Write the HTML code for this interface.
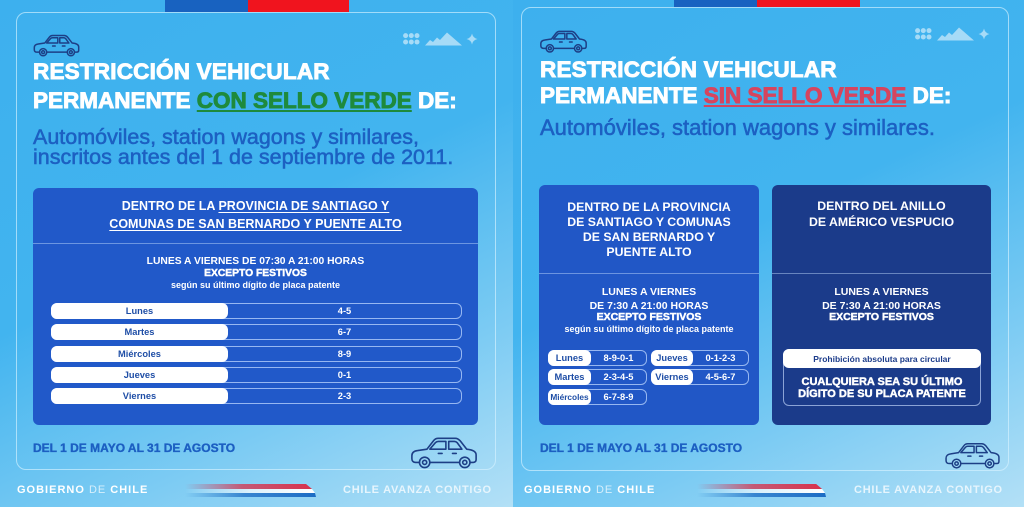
<!DOCTYPE html>
<html><head><meta charset="utf-8">
<style>
*{margin:0;padding:0;box-sizing:border-box}
body{width:1024px;height:507px;overflow:hidden;background:#42b3ef;font-family:"Liberation Sans",Arial,sans-serif;position:relative}
.img{position:absolute;top:0;height:507px;background:linear-gradient(155deg,#3db0ee 0%,#42b4ef 45%,#7ccbf3 75%,#b3e0f6 100%)}
.a{position:absolute;white-space:nowrap;line-height:1}
.card{position:absolute;border:1.5px solid rgba(215,243,255,0.65);border-radius:10px}
.t{color:#fff;font-weight:bold;font-size:22.5px;-webkit-text-stroke:0.9px #fff}
.ug{color:#1e8a3c;-webkit-text-stroke:0.9px #1e8a3c;text-decoration:underline;text-decoration-thickness:2px;text-underline-offset:2px}
.ur{color:#d6455e;-webkit-text-stroke:0.9px #d6455e;text-decoration:underline;text-decoration-thickness:2px;text-underline-offset:2px}
.sub{color:#1c60c2;font-size:21.5px;-webkit-text-stroke:0.55px #1c60c2}
.box{position:absolute;border-radius:6px}
.hd{color:#fff;font-weight:bold;font-size:12.5px;text-align:center}
.ul{text-decoration:underline;text-decoration-thickness:1px;text-underline-offset:2px}
.sm{color:#fff;font-weight:bold;font-size:10.3px;text-align:center}
.ex{-webkit-text-stroke:0.45px #fff}
.sg{color:#fff;font-weight:bold;font-size:9px;text-align:center}
.div{position:absolute;height:1px;background:rgba(200,225,255,0.45)}
.row{position:absolute;height:16px;border:1px solid rgba(190,215,255,0.75);border-radius:6px;display:flex;align-items:center}
.pill{height:16px;margin:-1px 0 -1px -1px;background:#fff;border-radius:6px;color:#1f4ea6;font-weight:bold;font-size:9.3px;display:flex;align-items:center;justify-content:center;flex:none}
.val{flex:1;text-align:center;color:#fff;font-weight:bold;font-size:9.3px}
.bot{color:#1c5fc2;font-weight:bold;font-size:12px;-webkit-text-stroke:0.35px #1c5fc2}
.ft{color:#fff;font-weight:bold;font-size:11px;letter-spacing:1px}
.ft span{font-weight:normal;color:rgba(255,255,255,0.7)}
.ft2{color:#e6f5fd;font-weight:bold;font-size:11px;letter-spacing:0.75px}
svg{position:absolute}
</style></head><body>

<div class="img" style="left:0;width:513px"></div>
<div class="img" style="left:513px;width:511px"></div>

<!-- flags -->
<div style="position:absolute;left:165px;top:0;width:83px;height:12px;background:#1862c0"></div>
<div style="position:absolute;left:248px;top:0;width:101px;height:12px;background:#f0141e"></div>
<div style="position:absolute;left:674px;top:0;width:83px;height:7px;background:#1862c0"></div>
<div style="position:absolute;left:757px;top:0;width:103px;height:7px;background:#f0141e"></div>

<!-- cards -->
<div class="card" style="left:16px;top:12px;width:480px;height:458px"></div>
<div class="card" style="left:521px;top:7px;width:488px;height:464px"></div>

<!-- small car icons -->
<svg style="left:33px;top:33px" width="47" height="24" viewBox="0 0 72 36" fill="none" stroke="#1d3f86" stroke-width="1.5" stroke-linejoin="round" stroke-linecap="round">
<path vector-effect="non-scaling-stroke" d="M10 29 H6 C3 29 2 27 2 25 V22 C2 19 4 17 8 16.5 L18 15 L25 6 C26.5 4 28 3.5 30 3.5 H48 C50 3.5 51.5 4.5 53 6 L60 15 C65 15.5 70 17 70 21 V26 C70 28 69 29 67 29 H64 M52 29 H21"/>
<path vector-effect="non-scaling-stroke" d="M21 15 L27 8 C28 7 29 6.8 30 6.8 H38 V15 Z M41 6.8 H47 C48 6.8 49 7.2 50 8.2 L55 15 H41 Z M30 19.5 H34 M45 19.5 H49"/>
<circle vector-effect="non-scaling-stroke" cx="15.5" cy="29" r="5.5"/><circle vector-effect="non-scaling-stroke" cx="15.5" cy="29" r="2.2"/>
<circle vector-effect="non-scaling-stroke" cx="58" cy="29" r="5.5"/><circle vector-effect="non-scaling-stroke" cx="58" cy="29" r="2.2"/>
</svg>
<svg style="left:539px;top:29px" width="49" height="24" viewBox="0 0 72 36" fill="none" stroke="#1d3f86" stroke-width="1.5" stroke-linejoin="round" stroke-linecap="round">
<path vector-effect="non-scaling-stroke" d="M10 29 H6 C3 29 2 27 2 25 V22 C2 19 4 17 8 16.5 L18 15 L25 6 C26.5 4 28 3.5 30 3.5 H48 C50 3.5 51.5 4.5 53 6 L60 15 C65 15.5 70 17 70 21 V26 C70 28 69 29 67 29 H64 M52 29 H21"/>
<path vector-effect="non-scaling-stroke" d="M21 15 L27 8 C28 7 29 6.8 30 6.8 H38 V15 Z M41 6.8 H47 C48 6.8 49 7.2 50 8.2 L55 15 H41 Z M30 19.5 H34 M45 19.5 H49"/>
<circle vector-effect="non-scaling-stroke" cx="15.5" cy="29" r="5.5"/><circle vector-effect="non-scaling-stroke" cx="15.5" cy="29" r="2.2"/>
<circle vector-effect="non-scaling-stroke" cx="58" cy="29" r="5.5"/><circle vector-effect="non-scaling-stroke" cx="58" cy="29" r="2.2"/>
</svg>

<!-- decor icons -->
<svg style="left:403px;top:32px" width="75" height="14" viewBox="0 0 75 14" fill="#a6dbf7">
<circle cx="2.6" cy="3.6" r="2.5"/><circle cx="8.3" cy="3.6" r="2.5"/><circle cx="14" cy="3.6" r="2.5"/>
<circle cx="2.6" cy="10" r="2.5"/><circle cx="8.3" cy="10" r="2.5"/><circle cx="14" cy="10" r="2.5"/>
<polygon points="22,13.5 27,8 30,10 34,5.5 37,8 44,0.5 59,13.5"/>
<path d="M69 1.5 Q69.9 6 74.5 7 Q69.9 8 69 12.5 Q68.1 8 63.5 7 Q68.1 6 69 1.5Z"/>
</svg>
<svg style="left:915px;top:27px" width="75" height="14" viewBox="0 0 75 14" fill="#a6dbf7">
<circle cx="2.6" cy="3.6" r="2.5"/><circle cx="8.3" cy="3.6" r="2.5"/><circle cx="14" cy="3.6" r="2.5"/>
<circle cx="2.6" cy="10" r="2.5"/><circle cx="8.3" cy="10" r="2.5"/><circle cx="14" cy="10" r="2.5"/>
<polygon points="22,13.5 27,8 30,10 34,5.5 37,8 44,0.5 59,13.5"/>
<path d="M69 1.5 Q69.9 6 74.5 7 Q69.9 8 69 12.5 Q68.1 8 63.5 7 Q68.1 6 69 1.5Z"/>
</svg>

<!-- titles -->
<div class="a t" style="left:33px;top:61px;letter-spacing:0.2px">RESTRICCIÓN VEHICULAR</div>
<div class="a t" style="left:33px;top:90px">PERMANENTE <span class="ug">CON SELLO VERDE</span> DE:</div>
<div class="a sub" style="left:33px;top:127px">Automóviles, station wagons y similares,</div>
<div class="a sub" style="left:33px;top:147px">inscritos antes del 1 de septiembre de 2011.</div>

<div class="a t" style="left:540px;top:59px;letter-spacing:0.2px">RESTRICCIÓN VEHICULAR</div>
<div class="a t" style="left:540px;top:85px">PERMANENTE <span class="ur">SIN SELLO VERDE</span> DE:</div>
<div class="a sub" style="left:540px;top:117px;font-size:22px">Automóviles, station wagons y similares.</div>

<!-- left table -->
<div class="box" style="left:33px;top:188px;width:445px;height:237px;background:#2159c9"></div>
<div class="a hd" style="left:33px;top:200px;width:445px">DENTRO DE LA <span class="ul">PROVINCIA DE SANTIAGO Y</span></div>
<div class="a hd" style="left:33px;top:218px;width:445px"><span class="ul">COMUNAS DE SAN BERNARDO Y PUENTE ALTO</span></div>
<div class="div" style="left:33px;top:243px;width:445px"></div>
<div class="a sm" style="left:33px;top:256.6px;width:445px">LUNES A VIERNES DE 07:30 A 21:00 HORAS</div>
<div class="a sm ex" style="left:33px;top:269.2px;width:445px">EXCEPTO FESTIVOS</div>
<div class="a sg" style="left:33px;top:281.4px;width:445px">según su último dígito de placa patente</div>

<div class="row" style="left:51px;top:303px;width:411px"><div class="pill" style="width:177px">Lunes</div><div class="val">4-5</div></div>
<div class="row" style="left:51px;top:324px;width:411px"><div class="pill" style="width:177px">Martes</div><div class="val">6-7</div></div>
<div class="row" style="left:51px;top:346px;width:411px"><div class="pill" style="width:177px">Miércoles</div><div class="val">8-9</div></div>
<div class="row" style="left:51px;top:367px;width:411px"><div class="pill" style="width:177px">Jueves</div><div class="val">0-1</div></div>
<div class="row" style="left:51px;top:388px;width:411px"><div class="pill" style="width:177px">Viernes</div><div class="val">2-3</div></div>

<!-- right image left box -->
<div class="box" style="left:539px;top:185px;width:220px;height:240px;background:#2157c6"></div>
<div class="a hd" style="left:539px;top:200.7px;width:220px;font-size:12.3px">DENTRO DE LA PROVINCIA</div>
<div class="a hd" style="left:539px;top:215.7px;width:220px;font-size:12.3px">DE SANTIAGO Y COMUNAS</div>
<div class="a hd" style="left:539px;top:230.7px;width:220px;font-size:12.3px">DE SAN BERNARDO Y</div>
<div class="a hd" style="left:539px;top:245.7px;width:220px;font-size:12.3px">PUENTE ALTO</div>
<div class="div" style="left:539px;top:273px;width:220px"></div>
<div class="a sm" style="left:539px;top:286.6px;width:220px;font-size:10.5px">LUNES A VIERNES</div>
<div class="a sm" style="left:539px;top:300.6px;width:220px;font-size:10.5px">DE 7:30 A 21:00 HORAS</div>
<div class="a sm ex" style="left:539px;top:312.2px;width:220px;font-size:10.5px">EXCEPTO FESTIVOS</div>
<div class="a sg" style="left:539px;top:324.7px;width:220px">según su último dígito de placa patente</div>

<div class="row" style="left:548px;top:350px;width:99px"><div class="pill" style="width:43px">Lunes</div><div class="val">8-9-0-1</div></div>
<div class="row" style="left:548px;top:369px;width:99px"><div class="pill" style="width:43px">Martes</div><div class="val">2-3-4-5</div></div>
<div class="row" style="left:548px;top:389px;width:99px"><div class="pill" style="width:43px;font-size:8.3px">Miércoles</div><div class="val">6-7-8-9</div></div>
<div class="row" style="left:651px;top:350px;width:98px"><div class="pill" style="width:42px">Jueves</div><div class="val">0-1-2-3</div></div>
<div class="row" style="left:651px;top:369px;width:98px"><div class="pill" style="width:42px">Viernes</div><div class="val">4-5-6-7</div></div>

<!-- right box -->
<div class="box" style="left:772px;top:185px;width:219px;height:240px;background:#1b3b8a"></div>
<div class="a hd" style="left:772px;top:200px;width:219px;font-size:12.3px">DENTRO DEL ANILLO</div>
<div class="a hd" style="left:772px;top:215.7px;width:219px;font-size:12.3px">DE AMÉRICO VESPUCIO</div>
<div class="div" style="left:772px;top:273px;width:219px"></div>
<div class="a sm" style="left:772px;top:286.6px;width:219px;font-size:10.5px">LUNES A VIERNES</div>
<div class="a sm" style="left:772px;top:300.6px;width:219px;font-size:10.5px">DE 7:30 A 21:00 HORAS</div>
<div class="a sm ex" style="left:772px;top:312.2px;width:219px;font-size:10.5px">EXCEPTO FESTIVOS</div>
<div class="box" style="left:783px;top:349px;width:198px;height:57px;border:1px solid rgba(200,220,255,0.65)"></div>
<div class="box" style="left:783px;top:349px;width:198px;height:19px;background:#fff"></div>
<div class="a" style="left:783px;top:354.5px;width:198px;text-align:center;color:#1b3b8a;font-weight:bold;font-size:8.5px">Prohibición absoluta para circular</div>
<div class="a sm ex" style="left:783px;top:377px;width:198px;font-size:11px">CUALQUIERA SEA SU ÚLTIMO</div>
<div class="a sm ex" style="left:783px;top:388.5px;width:198px;font-size:11px">DÍGITO DE SU PLACA PATENTE</div>

<!-- bottom -->
<div class="a bot" style="left:33px;top:442.4px">DEL 1 DE MAYO AL 31 DE AGOSTO</div>
<div class="a bot" style="left:540px;top:442.4px">DEL 1 DE MAYO AL 31 DE AGOSTO</div>

<svg style="left:409px;top:435px" width="70" height="34" viewBox="0 0 72 36" fill="none" stroke="#1d3f86" stroke-width="1.6" stroke-linejoin="round" stroke-linecap="round">
<path vector-effect="non-scaling-stroke" d="M10 29 H6 C3 29 2 27 2 25 V22 C2 19 4 17 8 16.5 L18 15 L25 6 C26.5 4 28 3.5 30 3.5 H48 C50 3.5 51.5 4.5 53 6 L60 15 C65 15.5 70 17 70 21 V26 C70 28 69 29 67 29 H64 M52 29 H21"/>
<path vector-effect="non-scaling-stroke" d="M21 15 L27 8 C28 7 29 6.8 30 6.8 H38 V15 Z M41 6.8 H47 C48 6.8 49 7.2 50 8.2 L55 15 H41 Z M30 19.5 H34 M45 19.5 H49"/>
<circle vector-effect="non-scaling-stroke" cx="15.5" cy="29" r="5.5"/><circle vector-effect="non-scaling-stroke" cx="15.5" cy="29" r="2.2"/>
<circle vector-effect="non-scaling-stroke" cx="58" cy="29" r="5.5"/><circle vector-effect="non-scaling-stroke" cx="58" cy="29" r="2.2"/>
</svg>
<svg style="left:944px;top:441px" width="57" height="28" viewBox="0 0 72 36" fill="none" stroke="#1d3f86" stroke-width="1.5" stroke-linejoin="round" stroke-linecap="round">
<path vector-effect="non-scaling-stroke" d="M10 29 H6 C3 29 2 27 2 25 V22 C2 19 4 17 8 16.5 L18 15 L25 6 C26.5 4 28 3.5 30 3.5 H48 C50 3.5 51.5 4.5 53 6 L60 15 C65 15.5 70 17 70 21 V26 C70 28 69 29 67 29 H64 M52 29 H21"/>
<path vector-effect="non-scaling-stroke" d="M21 15 L27 8 C28 7 29 6.8 30 6.8 H38 V15 Z M41 6.8 H47 C48 6.8 49 7.2 50 8.2 L55 15 H41 Z M30 19.5 H34 M45 19.5 H49"/>
<circle vector-effect="non-scaling-stroke" cx="15.5" cy="29" r="5.5"/><circle vector-effect="non-scaling-stroke" cx="15.5" cy="29" r="2.2"/>
<circle vector-effect="non-scaling-stroke" cx="58" cy="29" r="5.5"/><circle vector-effect="non-scaling-stroke" cx="58" cy="29" r="2.2"/>
</svg>

<!-- footer -->
<div class="a ft" style="left:17px;top:484.6px">GOBIERNO <span>DE</span> CHILE</div>
<div class="a ft2" style="left:343px;top:484.6px">CHILE AVANZA CONTIGO</div>
<div class="a ft" style="left:524px;top:484.6px">GOBIERNO <span>DE</span> CHILE</div>
<div class="a ft2" style="left:854px;top:484.6px">CHILE AVANZA CONTIGO</div>

<svg style="left:185px;top:483px" width="132" height="15" viewBox="0 0 132 15">
<defs>
<linearGradient id="gr" x1="0" x2="1"><stop offset="0" stop-color="#d8324c" stop-opacity="0"/><stop offset="0.45" stop-color="#d8324c" stop-opacity="0.75"/><stop offset="1" stop-color="#d8324c"/></linearGradient>
<linearGradient id="gw" x1="0" x2="1"><stop offset="0" stop-color="#ffffff" stop-opacity="0"/><stop offset="0.5" stop-color="#ffffff" stop-opacity="0.7"/><stop offset="1" stop-color="#ffffff"/></linearGradient>
<linearGradient id="gb" x1="0" x2="1"><stop offset="0" stop-color="#1c6cc4" stop-opacity="0"/><stop offset="0.45" stop-color="#1c6cc4" stop-opacity="0.75"/><stop offset="1" stop-color="#1c6cc4"/></linearGradient>
</defs>
<polygon points="0,1 121,1 127,6 0,6" fill="url(#gr)"/>
<polygon points="0,6 127,6 130,10 0,10" fill="url(#gw)"/>
<polygon points="0,10 130,10 131,14 0,14" fill="url(#gb)"/>
</svg>
<svg style="left:697px;top:483px" width="130" height="15" viewBox="0 0 132 15" preserveAspectRatio="none">
<polygon points="0,1 121,1 127,6 0,6" fill="url(#gr)"/>
<polygon points="0,6 127,6 130,10 0,10" fill="url(#gw)"/>
<polygon points="0,10 130,10 131,14 0,14" fill="url(#gb)"/>
</svg>

</body></html>
